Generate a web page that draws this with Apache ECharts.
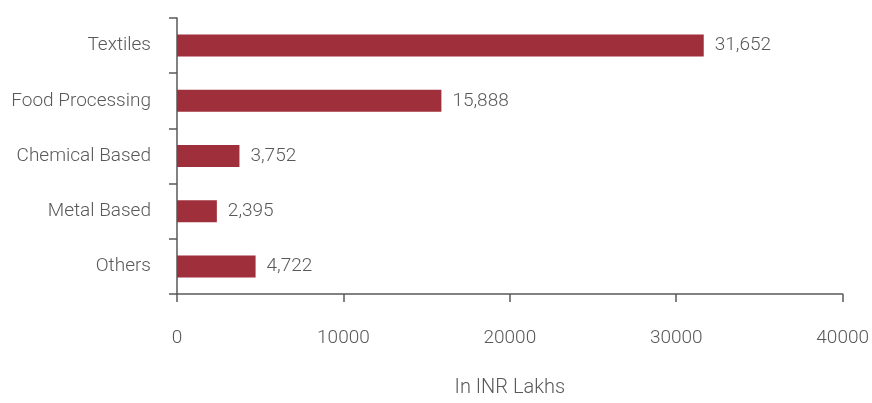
<!DOCTYPE html>
<html>
<head>
<meta charset="utf-8">
<script src="https://cdn.jsdelivr.net/npm/echarts@6/dist/echarts.min.js"></script>
<style>
  html, body { margin: 0; padding: 0; background: #fff; }
  #chart { width: 872px; height: 403px; }
</style>
</head>
<body>
<div id="chart"></div>
<script>
// sectors, top to bottom
const sectors = ['Textiles', 'Food Processing', 'Chemical Based', 'Metal Based', 'Others'];
const investment = [31652, 15888, 3752, 2395, 4722];
const axisName = 'In INR Lakhs';

const font = '"Roboto", sans-serif';
const grey = '#595959';

let myChart = echarts.init(document.getElementById('chart'));
let option = {
  animation: false,
  grid: {
    left: 177,
    right: 27,
    top: 18,
    bottom: 104,
    containLabel: false,
  },
  xAxis: {
    type: 'value',
    min: 0,
    max: 40000,
    interval: 10000,
    name: axisName,
    nameLocation: 'middle',
    nameGap: 84,
    nameTextStyle: { color: grey, fontFamily: font, fontSize: 20, fontWeight: 300 },
    axisLine: { show: true, lineStyle: { color: grey, width: 1.5 } },
    axisTick: { show: true, length: 8, lineStyle: { color: grey, width: 1.5 } },
    axisLabel: {
      color: grey, fontFamily: font, fontSize: 19, fontWeight: 300, margin: 35,
      formatter: v => String(v),
    },
    splitLine: { show: false },
  },
  yAxis: {
    type: 'category',
    inverse: true,
    data: sectors,
    axisLine: { show: true, lineStyle: { color: grey, width: 1.5 } },
    axisTick: { show: true, length: 8, lineStyle: { color: grey, width: 1.5 } },
    axisLabel: { color: grey, fontFamily: font, fontSize: 19, fontWeight: 300, margin: 26 },
  },
  series: [
    {
      type: 'bar',
      data: investment,
      barWidth: 22,
      itemStyle: { color: '#9E2F3B' },
      label: {
        show: true,
        position: 'right',
        distance: 11,
        color: grey,
        fontFamily: font,
        fontSize: 19,
        fontWeight: 300,
        formatter: p => p.value.toLocaleString('en-US'),
      },
    },
  ],
};
myChart.setOption(option);
</script>
</body>
</html>
